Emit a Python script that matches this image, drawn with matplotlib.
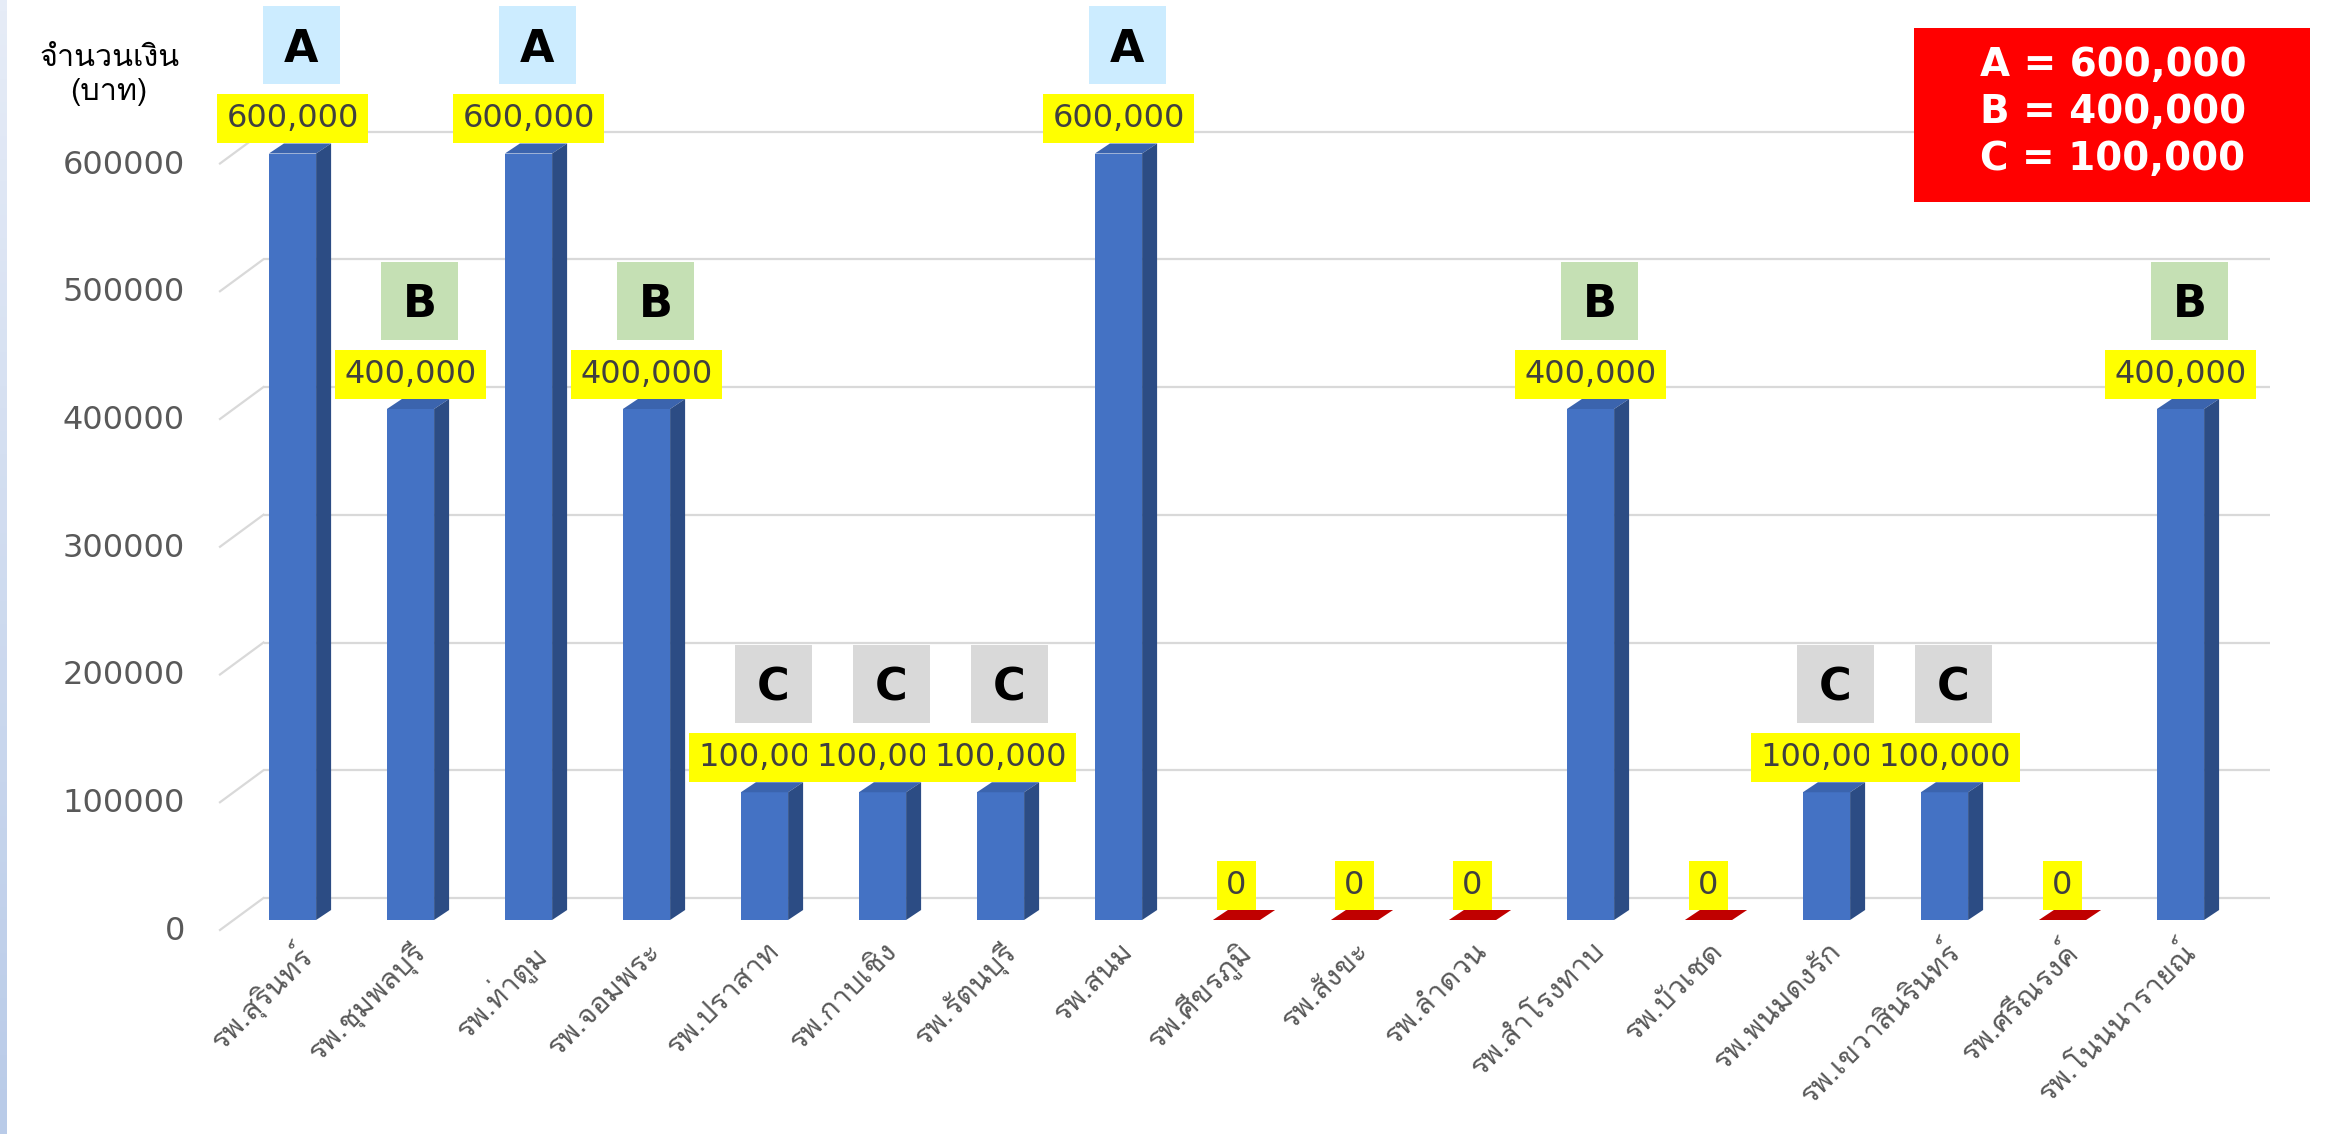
import numpy as np
import matplotlib
matplotlib.use("Agg")
import matplotlib.pyplot as plt
from matplotlib import font_manager
from matplotlib.ft2font import FT2Font
from matplotlib.patches import Polygon, Rectangle
from matplotlib.text import Text
from matplotlib.transforms import ScaledTranslation
from matplotlib.offsetbox import AnnotationBbox, DrawingArea

# data
hospitals = ["รพ.สุรินทร์", "รพ.ชุมพลบุรี", "รพ.ท่าตูม", "รพ.จอมพระ", "รพ.ปราสาท",
             "รพ.กาบเชิง", "รพ.รัตนบุรี", "รพ.สนม", "รพ.ศีขรภูมิ", "รพ.สังขะ",
             "รพ.ลำดวน", "รพ.สำโรงทาบ", "รพ.บัวเชด", "รพ.พนมดงรัก",
             "รพ.เขวาสินรินทร์", "รพ.ศรีณรงค์", "รพ.โนนนารายณ์"]
amount = [600000, 400000, 600000, 400000, 100000, 100000, 100000, 600000,
          0, 0, 0, 400000, 0, 100000, 100000, 0, 400000]
tier = ["A", "B", "A", "B", "C", "C", "C", "A", "", "", "", "B", "", "C", "C", "", "B"]
tier_names = ["A", "B", "C"]
tier_amounts = [600000, 400000, 100000]
yticks = [0, 100000, 200000, 300000, 400000, 500000, 600000]

FRONT, TOP, SIDE, ZERO = "#4472C4", "#3B64AE", "#2C4C84", "#C00000"
GRID, TICK = "#D9D9D9", "#595959"
TIER_BG = {"A": "#CCECFF", "B": "#C5E0B4", "C": "#D9D9D9"}


def thai_family():
    # find any installed face that actually has Thai glyphs
    for f in font_manager.fontManager.ttflist:
        try:
            if 0x0E01 in FT2Font(f.fname).get_charmap():
                return f.name
        except Exception:
            pass
    return None

th = thai_family()
FAM = [th, "DejaVu Sans"] if th else ["DejaVu Sans"]
plt.rcParams["font.family"] = FAM

W, H = 2338, 1134
fig = plt.figure(figsize=(W / 100, H / 100), dpi=100)
fig.patch.set_facecolor("white")

# slide edge strip
lax = fig.add_axes([0, 0, 7 / W, 1])
lax.imshow(np.linspace(0, 1, 100)[:, None], aspect="auto",
           cmap=matplotlib.colors.LinearSegmentedColormap.from_list("s", ["#E6ECF7", "#B9CBE8"]))
lax.axis("off")

# axes = front plane of the bars
ax = fig.add_axes([233.5 / W, (H - 920) / H, 2006 / W, 7 * 127.75 / H])
ax.set_xlim(-0.5, 16.5)
ax.set_ylim(0, 700000)
for s in ax.spines.values():
    s.set_visible(False)
ax.patch.set_visible(False)


def px2data(dx, dy):
    inv = ax.transData.inverted()
    o = ax.transData.transform((0, 0))
    return inv.transform(o + np.array([dx, dy])) - inv.transform(o)

bdx, bdy = px2data(15, 10)       # bar depth
wdx, wdy = px2data(30, 22)       # back wall
fdx, fdy = px2data(-13.5, -10)   # floor front edge

# back wall gridlines + floor diagonals
for v in yticks:
    ax.plot([-0.5 + wdx, 16.5 + wdx], [v + wdy, v + wdy], color=GRID, lw=1.6, zorder=1,
            solid_capstyle="butt", clip_on=False)
    ax.plot([-0.5 + fdx, -0.5 + wdx], [v + fdy, v + wdy], color=GRID, lw=1.6, zorder=1,
            clip_on=False)

# pseudo-3D bars
x = np.arange(len(hospitals))
bw = 0.40
ax.bar(x, amount, width=bw, color=FRONT, zorder=3, clip_on=False)
for i, v in enumerate(amount):
    xl, xr = i - bw / 2, i + bw / 2
    ax.add_patch(Polygon([(xl, v), (xr, v), (xr + bdx, v + bdy), (xl + bdx, v + bdy)],
                         closed=True, fc=TOP if v > 0 else ZERO, ec="none", zorder=3,
                         clip_on=False))
    if v > 0:
        ax.add_patch(Polygon([(xr, 0), (xr, v), (xr + bdx, v + bdy), (xr + bdx, bdy)],
                             closed=True, fc=SIDE, ec="none", zorder=3, clip_on=False))

# value labels (yellow) and tier boxes
for i, v in enumerate(amount):
    ax.annotate(f"{v:,}", (i, v), xytext=(0, 14), textcoords="offset points",
                ha="center", va="bottom", fontsize=23, color="#404040",
                family=["DejaVu Sans"],
                bbox=dict(boxstyle="square,pad=0.28", fc="#FFFF00", ec="none"),
                zorder=5 + i, annotation_clip=False)
    if tier[i]:
        da = DrawingArea(56, 56, 0, 0)
        da.add_artist(Rectangle((0, 0), 56, 56, fc=TIER_BG[tier[i]], ec="none"))
        da.add_artist(Text(28, 16, tier[i], ha="center", va="baseline", fontsize=32,
                           fontweight="bold", color="black", family="DejaVu Sans"))
        ab = AnnotationBbox(da, (i, v), xybox=(6.5, 78), boxcoords="offset points",
                            frameon=False, pad=0, box_alignment=(0.5, 0.5),
                            annotation_clip=False)
        ab.set_zorder(30)
        ax.add_artist(ab)

# ticks
ax.set_xticks(x, hospitals, rotation=45, ha="right", rotation_mode="anchor")
ax.set_yticks(yticks, [str(t) for t in yticks])
ax.tick_params(axis="x", length=0, pad=12, labelsize=21, labelcolor=TICK)
ax.tick_params(axis="y", length=0, pad=35, labelsize=23, labelcolor=TICK)
for lbl in ax.get_yticklabels():
    lbl.set_family(["DejaVu Sans"])
    lbl.set_transform(lbl.get_transform() + ScaledTranslation(0, -0.08, fig.dpi_scale_trans))

ax.set_ylabel("จำนวนเงิน\n(บาท)", rotation=0, fontsize=22, color="black",
              ha="center", va="center", linespacing=1.25)
ax.yaxis.set_label_coords(-0.062, 0.945)

# red key box
fig.add_artist(Rectangle((1914 / W, 1 - 202 / H), (2310 - 1914) / W, (202 - 28) / H,
                         transform=fig.transFigure, fc="#FF0000", ec="none"))
key = "\n".join(f"{n} = {a:,}" for n, a in zip(tier_names, tier_amounts))
fig.text(2113 / W, 1 - 112 / H, key, ha="center", va="center", color="white",
         fontsize=28, fontweight="bold", linespacing=1.3, family=["DejaVu Sans"])

fig.savefig("out.png", dpi=100)
